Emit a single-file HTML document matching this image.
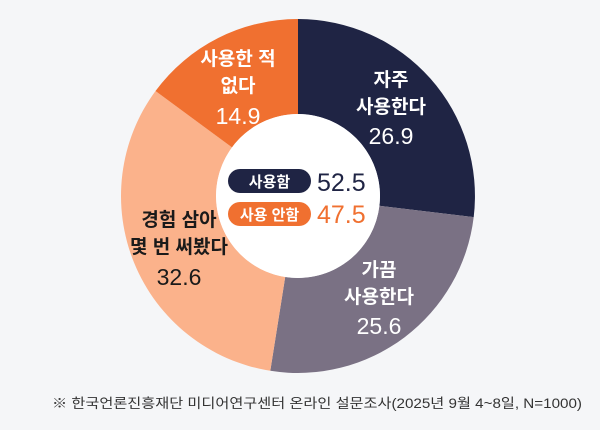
<!DOCTYPE html><html><head><meta charset="utf-8"><style>
body{margin:0;background:#f5f6f8;width:600px;height:425px;overflow:hidden}
svg text{font-family:"Liberation Sans","Noto Sans CJK KR",sans-serif}
</style></head><body>
<svg width="600" height="425" viewBox="0 0 600 425">
<rect width="600" height="425" fill="#f5f6f8"/>
<path d="M298,19 A177,177 0 0 1 473.7,217.1 L379.4,205.8 A82,82 0 0 0 298,114Z" fill="#1f2444"/>
<path d="M473.7,217.1 A177,177 0 0 1 270.3,370.8 L285.2,277 A82,82 0 0 0 379.4,205.8Z" fill="#7a7184"/>
<path d="M270.3,370.8 A177,177 0 0 1 155.5,91 L232,147.4 A82,82 0 0 0 285.2,277Z" fill="#fbb28b"/>
<path d="M155.5,91 A177,177 0 0 1 298,19 L298,114 A82,82 0 0 0 232,147.4Z" fill="#f07030"/>
<circle cx="298" cy="196" r="82" fill="#fff"/>
<g font-size="19" text-anchor="middle" fill="#fff" font-weight="bold">
<text x="238" y="65">사용한 적</text><text x="238" y="92">없다</text><text x="238" y="124" font-size="23" font-weight="normal">14.9</text>
<text x="391" y="86">자주</text><text x="391" y="113">사용한다</text><text x="391" y="144" font-size="23" font-weight="normal">26.9</text>
<text x="379" y="276">가끔</text><text x="379" y="303">사용한다</text><text x="379" y="334" font-size="23" font-weight="normal">25.6</text>
<g fill="#1a1a1a"><text x="179" y="226">경험 삼아</text><text x="179" y="253">몇 번 써봤다</text><text x="179" y="285" font-size="23" font-weight="normal">32.6</text></g>
</g>
<rect x="228" y="169" width="83" height="24" rx="12" fill="#1f2444"/>
<text x="269.5" y="187" font-size="15" fill="#fff" text-anchor="middle" font-weight="bold">사용함</text>
<rect x="228" y="202" width="83" height="24" rx="12" fill="#f07030"/>
<text x="269.5" y="220" font-size="15" fill="#fff" text-anchor="middle" font-weight="bold">사용 안함</text>
<text x="317" y="191" font-size="25" fill="#1f2444">52.5</text>
<text x="317" y="223" font-size="25" fill="#f07030">47.5</text>
<text x="582" y="408" font-size="13.5" fill="#333" text-anchor="end" textLength="530" lengthAdjust="spacingAndGlyphs">※ 한국언론진흥재단 미디어연구센터 온라인 설문조사(2025년 9월 4~8일, N=1000)</text>
</svg>
</body></html>
